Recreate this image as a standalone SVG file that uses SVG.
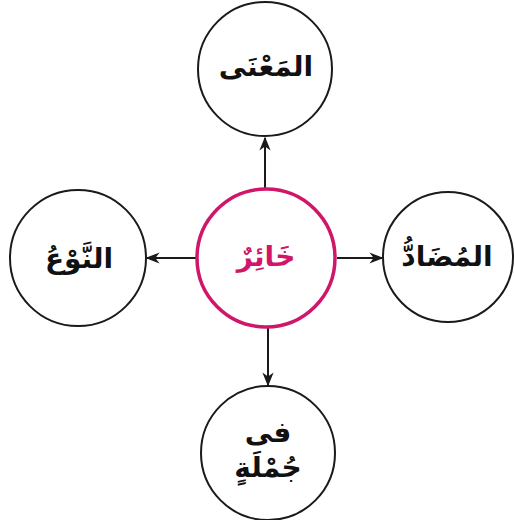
<svg xmlns="http://www.w3.org/2000/svg" width="515" height="520" viewBox="0 0 515 520">
<defs>
<style>
.node{fill:#fff;stroke:#1a1a1a;stroke-width:2}
.hub{fill:#fff;stroke:#d1166a;stroke-width:3.5}
.lbl{font-family:"DejaVu Sans",sans-serif;font-weight:bold;font-size:28px;fill:#111;text-anchor:middle}
.hubl{fill:#d1166a}
.conn{stroke:#1a1a1a;stroke-width:2;fill:none;marker-end:url(#ah)}
</style>
<marker id="ah" viewBox="0 0 10 10" refX="9" refY="5" markerWidth="7" markerHeight="7" markerUnits="strokeWidth" orient="auto">
<path d="M0,1 L10,5 L0,9 L3,5 Z" fill="#1a1a1a"/>
</marker>
</defs>
<rect width="515" height="520" fill="#fff"/>
<g id="connectors">
<line class="conn" x1="265" y1="192" x2="265" y2="138"/>
<line class="conn" x1="196" y1="258" x2="147" y2="258"/>
<line class="conn" x1="337" y1="258" x2="382" y2="258"/>
<line class="conn" x1="268" y1="326" x2="268" y2="385"/>
</g>
<g id="node-center">
<circle class="hub" cx="266" cy="258" r="69"/>
<text class="lbl hubl" x="266" y="266" direction="rtl">خَائِرٌ</text>
</g>
<g id="node-top">
<circle class="node" cx="265" cy="69" r="67"/>
<text class="lbl" x="266" y="76" direction="rtl">المَعْنَى</text>
</g>
<g id="node-left">
<circle class="node" cx="78" cy="258" r="68"/>
<text class="lbl" x="79" y="268" direction="rtl">النَّوْعُ</text>
</g>
<g id="node-right">
<circle class="node" cx="448" cy="257" r="65"/>
<text class="lbl" x="447" y="266" direction="rtl">المُضَادُّ</text>
</g>
<g id="node-bottom">
<circle class="node" cx="268" cy="453" r="67"/>
<text class="lbl" x="268" y="442" direction="rtl">فى</text>
<text class="lbl" x="268" y="477" direction="rtl">جُمْلَةٍ</text>
</g>
</svg>
